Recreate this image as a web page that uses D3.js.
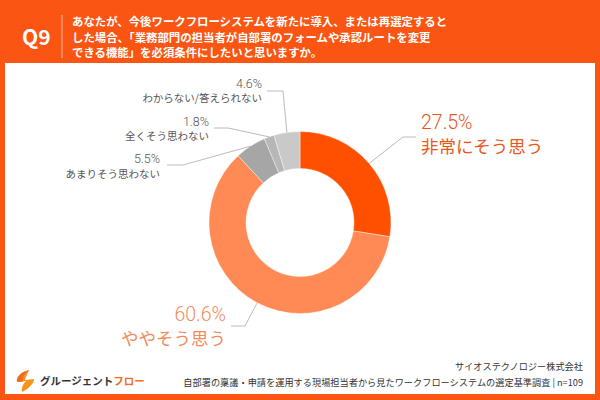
<!DOCTYPE html>
<html><head><meta charset="utf-8">
<script src="https://cdn.jsdelivr.net/npm/d3@7"></script>
<style>
html,body{margin:0;padding:0;background:#fff;}
svg{display:block;}
text{font-family:"Noto Sans CJK JP","Noto Sans",sans-serif;}
</style></head><body>
<svg id="c" width="600" height="400"></svg>
<script>
const categories = ["非常にそう思う","ややそう思う","あまりそう思わない","全くそう思わない","わからない/答えられない"];
const values = [27.5, 60.6, 5.5, 1.8, 4.6];
const titleLines = ["あなたが、今後ワークフローシステムを新たに導入、または再選定すると","した場合、「業務部門の担当者が自部署のフォームや承認ルートを変更","できる機能」を必須条件にしたいと思いますか。"];
const sourceLines = ["サイオステクノロジー株式会社","自部署の稟議・申請を運用する現場担当者から見たワークフローシステムの選定基準調査 | n=109"];

const sliceColors = ["#FF5000","#FF8A55","#A6A6A6","#B7B7B7","#C9C9C9"];
const labelColors = ["#E8571E","#F08C5E","#555","#555","#555"];

const svg = d3.select("#c");
// frame
svg.append("rect").attr("width",600).attr("height",400).attr("fill","#FA5512");
svg.append("rect").attr("x",5).attr("y",63).attr("width",590).attr("height",331).attr("fill","#fff");

// header
svg.append("text").attr("x",22).attr("y",45).attr("fill","#fff").attr("font-size",21).attr("font-weight",700)
  .attr("font-family","Liberation Sans, Arial, sans-serif").text("Q9");
svg.append("line").attr("x1",62).attr("x2",62).attr("y1",15).attr("y2",58).attr("stroke","rgba(255,255,255,0.6)").attr("stroke-width",1);
const tt = svg.append("text").attr("x",72).attr("y",26).attr("fill","#fff").attr("font-size",11.4).attr("font-weight",700);
titleLines.forEach((d,i)=>tt.append("tspan").attr("x",72).attr("dy",i?15.5:0).text(d));

// donut
const cx=300, cy=222.5, rO=91, rI=54;
const g = svg.append("g").attr("transform",`translate(${cx},${cy})`);
const pie = d3.pie().sort(null).value(d=>d);
const arcs = pie(values);
const arc = d3.arc().innerRadius(rI).outerRadius(rO);
g.selectAll("path").data(arcs).join("path").attr("d",arc)
  .attr("fill",(d,i)=>sliceColors[i]).attr("stroke","#fff").attr("stroke-width",0.4);

// labels layout
const lay = [
  {anchor:"start", x:421, py:129, ny:153, pf:19.5, nf:17.5, lx:[416,403], ly:137},
  {anchor:"end",   x:226, py:321, ny:345, pf:19.5, nf:17.5, lx:[231,245], ly:326},
  {anchor:"end",   x:160, py:163, ny:178, pf:12.5, nf:10.5, lx:[167,183], ly:165},
  {anchor:"end",   x:209, py:126, ny:140, pf:12.5, nf:10.5, lx:[214,228], ly:128},
  {anchor:"end",   x:262, py:88,  ny:102, pf:12.5, nf:10.5, lx:[267,283], ly:91}
];
const fmt = d=>d.toFixed(1)+"%";
arcs.forEach((a,i)=>{
  const L = lay[i];
  const m = (a.startAngle+a.endAngle)/2;
  const px = cx + rO*Math.sin(m), py = cy - rO*Math.cos(m);
  svg.append("polyline").attr("points",`${L.lx[0]},${L.ly} ${L.lx[1]},${L.ly} ${px},${py}`)
    .attr("fill","none").attr("stroke","#AAA").attr("stroke-width",0.8);
  const t = svg.append("text").attr("x",L.x).attr("y",L.py).attr("text-anchor",L.anchor).attr("fill",labelColors[i]);
  t.append("tspan").attr("x",L.x).attr("font-family","Roboto, 'Liberation Sans', sans-serif")
    .attr("font-size",L.pf).attr("font-weight",300).text(fmt(values[i]));
  t.append("tspan").attr("x",L.x).attr("dy",L.ny-L.py).attr("font-size",L.nf).attr("font-weight",400).text(categories[i]);
});

// logo
const lg = svg.append("g").attr("transform","translate(15,370)");
lg.append("path").attr("d","M14,0 C6,2 1,7 2,12 L11,11 C8,14 6,18 7,22 C13,19 19,14 19,9 L10,10 C11,6 13,3 14,0 Z").attr("fill","#F7941D");
lg.append("path").attr("d","M14,0 C6,2 1,7 2,12 L8,11.5 C7,7 10,3 14,0 Z").attr("fill","#F36A21");
const lt = svg.append("text").attr("x",40).attr("y",385).attr("font-size",10.5).attr("font-weight",700);
lt.append("tspan").attr("fill","#333").text("グルージェント");
lt.append("tspan").attr("fill","#F36A21").text("フロー");

// source
const st = svg.append("text").attr("x",583).attr("y",370).attr("text-anchor","end").attr("fill","#333").attr("font-size",9.2);
sourceLines.forEach((d,i)=>st.append("tspan").attr("x",583).attr("dy",i?16:0).text(d));
</script>
</body></html>
